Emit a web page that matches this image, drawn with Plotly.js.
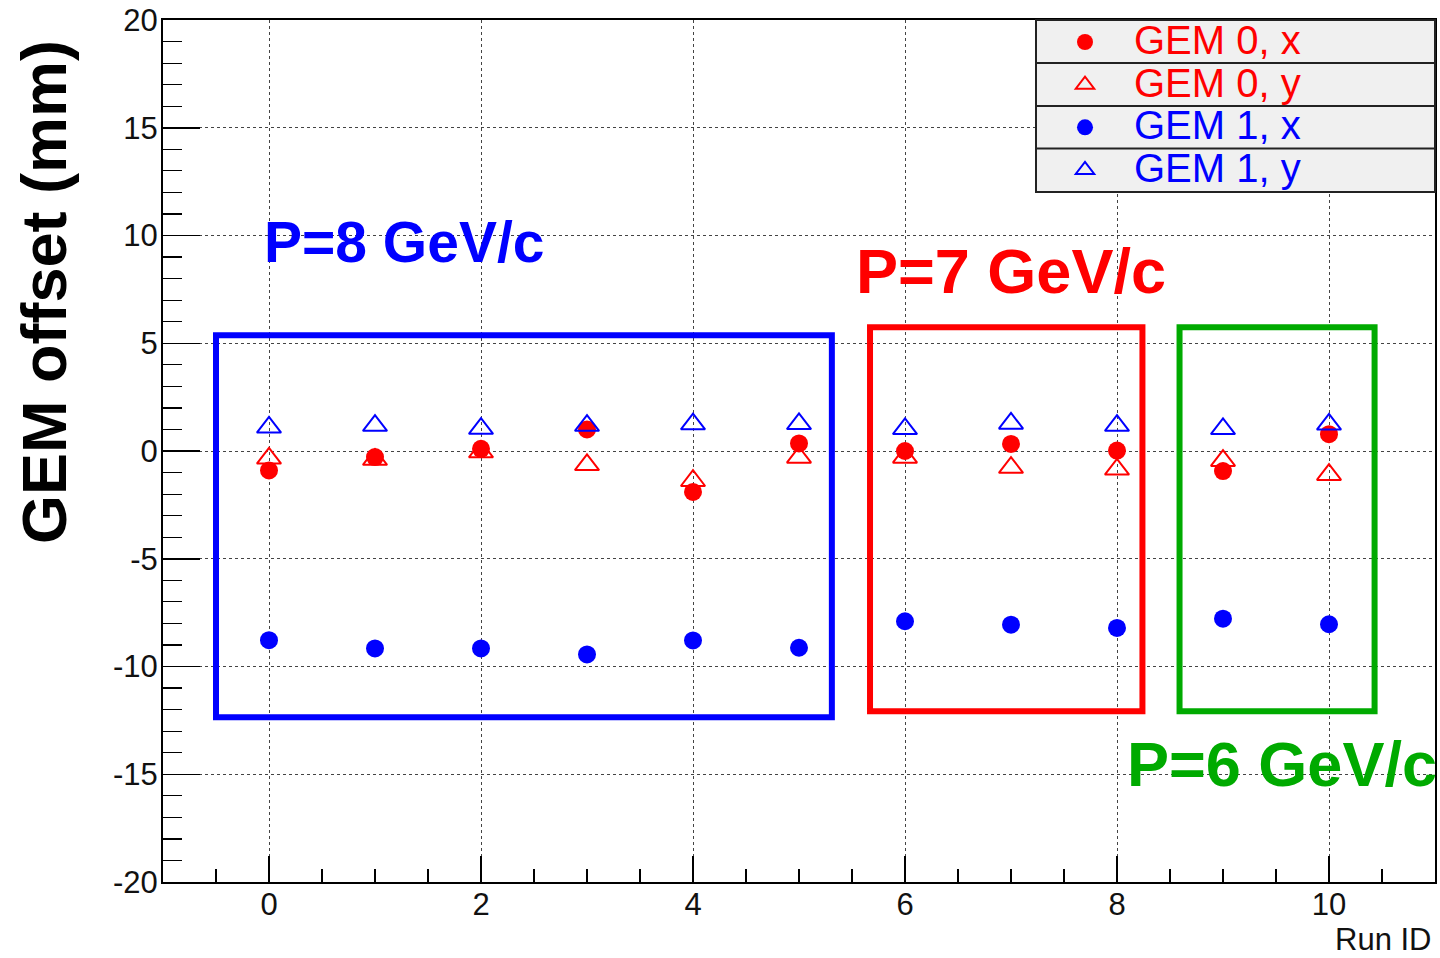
<!DOCTYPE html>
<html>
<head>
<meta charset="utf-8">
<script src="https://cdn.plot.ly/plotly-3.0.1.min.js"></script>
<style>
  html, body { margin: 0; padding: 0; background: #ffffff; }
  #chart { width: 1440px; height: 958px; }
</style>
</head>
<body>
<div id="chart"></div>
<script>
// Run numbers
const runs = [0, 1, 2, 3, 4, 5, 6, 7, 8, 9, 10];

// GEM offsets (mm) per run
const gem0x = [-0.9, -0.28, 0.1, 1.0, -1.9, 0.35, 0.0, 0.33, 0.02, -0.93, 0.78];
const gem0y = [-0.34, -0.4, -0.05, -0.64, -1.38, -0.3, -0.3, -0.77, -0.85, -0.45, -1.1];
const gem1x = [-8.78, -9.16, -9.16, -9.44, -8.79, -9.13, -7.9, -8.06, -8.21, -7.78, -8.04];
const gem1y = [1.1, 1.18, 1.04, 1.18, 1.25, 1.26, 1.03, 1.28, 1.18, 1.03, 1.24];

// Series names as shown in the legend
const seriesNames = ['GEM 0, x', 'GEM 0, y', 'GEM 1, x', 'GEM 1, y'];

// Beam momentum labels
const momentumLabels = ['P=8 GeV/c', 'P=7 GeV/c', 'P=6 GeV/c'];

// Y tick values and their labels (plain hyphen minus)
const yTickVals = [-20, -15, -10, -5, 0, 5, 10, 15, 20];
const yTickText = ['-20', '-15', '-10', '-5', '0', '5', '10', '15', '20'];

const RED = '#ff0000';
const BLUE = '#0000ff';
const GREEN = '#00aa00';
const FONT = '"Liberation Sans", Arial, Helvetica, sans-serif';

function legendName(name, color) {
  return '<span style="font-size:40px;color:' + color + '">' + name + '</span>';
}

const traces = [
  {
    x: runs, y: gem0y, type: 'scatter', mode: 'markers',
    name: legendName(seriesNames[1], RED), legendrank: 2,
    marker: { symbol: 'triangle-up-open', size: 21, color: RED, line: { width: 2, color: RED } }
  },
  {
    x: runs, y: gem0x, type: 'scatter', mode: 'markers',
    name: legendName(seriesNames[0], RED), legendrank: 1,
    marker: { symbol: 'circle', size: 18, color: RED, line: { width: 0 } }
  },
  {
    x: runs, y: gem1x, type: 'scatter', mode: 'markers',
    name: legendName(seriesNames[2], BLUE), legendrank: 3,
    marker: { symbol: 'circle', size: 18, color: BLUE, line: { width: 0 } }
  },
  {
    x: runs, y: gem1y, type: 'scatter', mode: 'markers',
    name: legendName(seriesNames[3], BLUE), legendrank: 4,
    marker: { symbol: 'triangle-up-open', size: 21, color: BLUE, line: { width: 2, color: BLUE } }
  }
];

// Pixel helpers for paper-referenced items (plot area 163..1435 x 20..882)
const PL = 163, PR = 1435, PT = 20, PB = 882;
const px = v => (v - PL) / (PR - PL);
const py = v => (PB - v) / (PB - PT);

const boxLine = c => ({ color: c, width: 6 });

const layout = {
  width: 1440,
  height: 958,
  margin: { l: PL, r: 1440 - PR, t: PT, b: 958 - PB, pad: 0 },
  paper_bgcolor: '#ffffff',
  plot_bgcolor: '#ffffff',
  font: { family: FONT, color: '#111111' },
  showlegend: true,
  legend: {
    x: px(1036), xanchor: 'left',
    y: py(15.7), yanchor: 'top',
    bgcolor: 'rgba(0,0,0,0)',
    borderwidth: 0,
    itemwidth: 88,
    font: { size: 30.5, family: FONT },
    traceorder: 'normal'
  },
  xaxis: {
    range: [-1, 11],
    tick0: 0, dtick: 2,
    ticks: 'inside', ticklen: 26, tickwidth: 1.5, tickcolor: '#000',
    tickfont: { size: 31, family: FONT, color: '#111' },
    ticklabelstandoff: -6,
    showline: true, mirror: true, linecolor: '#000', linewidth: 2,
    showgrid: true, gridcolor: '#444', gridwidth: 1, griddash: 'dot',
    zeroline: false,
    minor: { ticks: 'inside', ticklen: 13, tickwidth: 1.2, tickcolor: '#000', dtick: 0.5, tick0: 0, showgrid: false }
  },
  yaxis: {
    range: [-20, 20],
    tickmode: 'array', tickvals: yTickVals, ticktext: yTickText,
    ticks: 'inside', ticklen: 37, tickwidth: 1.5, tickcolor: '#000',
    tickfont: { size: 31, family: FONT, color: '#111' },
    ticklabelstandoff: -3,
    showline: true, mirror: true, linecolor: '#000', linewidth: 2,
    showgrid: true, gridcolor: '#444', gridwidth: 1, griddash: 'dot',
    zeroline: false,
    minor: { ticks: 'inside', ticklen: 19, tickwidth: 1.2, tickcolor: '#000', dtick: 1, tick0: 0, showgrid: false }
  },
  shapes: [
    // momentum groups
    { type: 'rect', xref: 'x', yref: 'y', x0: -0.5, x1: 5.31, y0: -12.36, y1: 5.37, line: boxLine(BLUE), layer: 'above' },
    { type: 'rect', xref: 'x', yref: 'y', x0: 5.67, x1: 8.24, y0: -12.08, y1: 5.74, line: boxLine(RED), layer: 'above' },
    { type: 'rect', xref: 'x', yref: 'y', x0: 8.59, x1: 10.43, y0: -12.08, y1: 5.74, line: boxLine(GREEN), layer: 'above' },
    // legend panel
    { type: 'rect', xref: 'paper', yref: 'paper', x0: px(1036), x1: 1, y0: py(192), y1: 1,
      fillcolor: '#f0f0f0', line: { color: '#222', width: 2 }, layer: 'above' },
    { type: 'line', xref: 'paper', yref: 'paper', x0: px(1036), x1: 1, y0: py(63), y1: py(63),
      line: { color: '#222', width: 2 }, layer: 'above' },
    { type: 'line', xref: 'paper', yref: 'paper', x0: px(1036), x1: 1, y0: py(106), y1: py(106),
      line: { color: '#222', width: 2 }, layer: 'above' },
    { type: 'line', xref: 'paper', yref: 'paper', x0: px(1036), x1: 1, y0: py(148.5), y1: py(148.5),
      line: { color: '#222', width: 2 }, layer: 'above' }
  ],
  annotations: [
    { text: momentumLabels[0], xref: 'x', yref: 'y', x: 1.27, y: 9.68, showarrow: false,
      xanchor: 'center', yanchor: 'middle', font: { family: FONT, size: 57, color: BLUE, weight: 'bold' } },
    { text: momentumLabels[1], xref: 'x', yref: 'y', x: 7.0, y: 8.34, showarrow: false,
      xanchor: 'center', yanchor: 'middle', font: { family: FONT, size: 63, color: RED, weight: 'bold' } },
    { text: momentumLabels[2], xref: 'x', yref: 'y', x: 9.56, y: -14.54, showarrow: false,
      xanchor: 'center', yanchor: 'middle', font: { family: FONT, size: 63, color: GREEN, weight: 'bold' } },
    // axis titles
    { text: 'GEM offset (mm)', xref: 'paper', yref: 'paper', x: px(44), y: py(292), showarrow: false,
      textangle: -90, xanchor: 'center', yanchor: 'middle',
      font: { family: FONT, size: 63, color: '#000', weight: 'bold' } },
    { text: 'Run ID', xref: 'paper', yref: 'paper', x: px(1433), y: py(940), showarrow: false,
      xanchor: 'right', yanchor: 'middle',
      font: { family: FONT, size: 31, color: '#111' } }
  ]
};

Plotly.newPlot('chart', traces, layout, { staticPlot: true, displayModeBar: false });
</script>
</body>
</html>
